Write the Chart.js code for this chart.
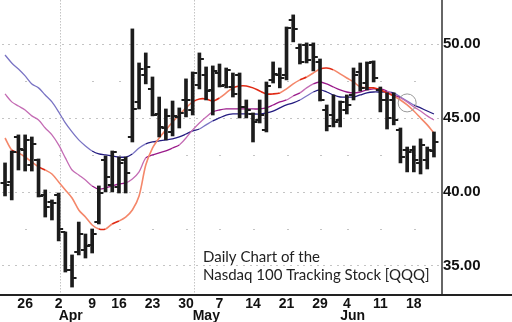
<!DOCTYPE html>
<html>
<head>
<meta charset="utf-8">
<script src="https://cdn.jsdelivr.net/npm/chart.js@4"></script>
<style>
html, body { margin: 0; padding: 0; background: #fff; }
</style>
</head>
<body>
<canvas id="canvas" width="512" height="322"></canvas>
<script>
// trading days from Mar 21 to Jun 21 (index 0 = Mar 21)
const opens = [40.59, 40.66, 43.71, 42.83, 41.81, 42.15, 39.78, 39.30, 39.78, 37.27, 34.69, 35.91, 36.04, 36.38, 37.94, 42.15, 40.45, 40.32, 42.15, 43.71,
    46.09, 47.92, 46.97, 45.27, 44.32, 44.05, 45.07, 46.20, 45.54, 47.24, 47.92, 46.90, 48.05, 47.24, 47.10, 47.92, 45.75, 45.27, 44.86, 44.19,
    47.58, 47.92, 47.92, 51.65, 49.75, 49.95, 49.95, 48.80, 45.54, 45.20, 44.86, 45.54, 46.56, 48.12, 47.37, 48.80, 46.90, 46.22, 46.22, 44.19,
    42.83, 42.83, 41.95, 42.15, 42.76]
const highs = [41.95, 42.76, 43.85, 43.85, 43.71, 42.22, 40.12, 39.44, 39.91, 37.27, 35.71, 37.94, 37.13, 37.47, 40.39, 42.42, 42.76, 42.35, 42.35, 51.04,
    48.73, 49.41, 47.78, 46.42, 45.61, 46.15, 45.68, 47.65, 48.12, 49.41, 48.46, 48.53, 48.66, 48.39, 48.05, 48.05, 46.22, 45.34, 46.22, 47.44,
    48.80, 48.39, 51.17, 51.99, 50.02, 50.09, 50.09, 49.00, 45.88, 46.56, 46.15, 46.56, 48.39, 48.73, 48.80, 48.87, 47.10, 46.70, 46.70, 44.32,
    43.03, 43.10, 43.58, 43.03, 44.05]
const lows = [39.71, 39.44, 41.47, 41.40, 41.40, 39.64, 38.28, 38.08, 36.66, 34.55, 33.53, 35.71, 35.50, 35.84, 37.81, 39.98, 39.98, 39.91, 39.91, 43.37,
    45.61, 47.31, 45.14, 43.71, 43.51, 43.78, 44.32, 45.07, 45.20, 46.97, 46.22, 45.20, 47.10, 47.04, 46.42, 45.00, 45.00, 43.37, 44.66, 44.05,
    47.37, 47.04, 47.58, 50.16, 48.66, 48.73, 48.19, 46.15, 44.12, 44.39, 44.39, 45.27, 46.22, 46.83, 46.90, 47.44, 45.41, 44.25, 44.53, 41.95,
    41.34, 41.34, 41.20, 41.54, 42.35]
const closes = [40.45, 42.69, 42.90, 43.51, 43.24, 39.71, 38.96, 39.20, 37.47, 34.69, 34.15, 37.13, 36.32, 37.13, 39.91, 41.00, 42.69, 41.95, 41.27, 45.61,
    48.32, 48.46, 45.17, 44.39, 45.14, 45.14, 45.34, 46.25, 48.05, 49.00, 46.83, 48.19, 47.17, 48.26, 46.63, 45.75, 45.54, 44.73, 45.20, 47.17,
    47.99, 47.71, 51.11, 51.04, 48.80, 48.93, 49.14, 46.22, 44.46, 44.73, 46.09, 45.88, 47.92, 47.04, 48.73, 47.71, 46.22, 45.00, 44.86, 42.35,
    42.69, 42.15, 43.17, 42.83, 43.37]

// moving averages
const maFast = [43.64, 42.83, 42.63, 42.35, 42.01, 41.68, 41.47, 41.20, 40.66, 40.12, 39.57, 38.76, 38.28, 37.74, 37.47, 37.47, 37.81, 38.01, 38.28, 38.76,
    39.71, 41.81, 42.96, 43.64, 44.19, 44.73, 45.20, 45.68, 46.09, 46.29, 46.29, 46.15, 46.36, 46.70, 47.04, 47.17, 47.17, 47.04, 46.83, 46.63,
    46.63, 46.70, 46.97, 47.31, 47.58, 47.78, 48.05, 48.32, 48.39, 48.26, 47.99, 47.71, 47.44, 47.10, 47.04, 47.04, 46.90, 46.70, 46.49, 46.22,
    45.88, 45.47, 45.00, 44.53, 43.98]
const maMid = [46.63, 46.09, 45.81, 45.54, 45.14, 44.86, 44.32, 43.85, 43.17, 42.29, 41.47, 41.13, 40.79, 40.39, 40.18, 40.25, 40.39, 40.52, 40.59, 40.86,
    41.34, 42.29, 42.49, 42.63, 42.76, 42.96, 43.17, 43.64, 44.19, 44.66, 45.07, 45.41, 45.54, 45.61, 45.61, 45.61, 45.61, 45.61, 45.61, 45.68,
    45.88, 46.09, 46.22, 46.49, 46.70, 47.04, 47.31, 47.44, 47.31, 47.10, 46.90, 46.76, 46.70, 46.76, 46.90, 46.97, 46.97, 46.83, 46.56, 46.36,
    46.09, 45.75, 45.47, 45.14, 44.86]
const maSlow = [49.27, 48.73, 48.32, 47.85, 47.31, 47.04, 46.56, 46.09, 45.41, 44.66, 44.05, 43.51, 43.10, 42.76, 42.56, 42.49, 42.42, 42.35, 42.35, 42.56,
    42.96, 43.24, 43.37, 43.44, 43.51, 43.58, 43.71, 43.91, 44.12, 44.25, 44.53, 44.80, 45.00, 45.20, 45.27, 45.27, 45.27, 45.27, 45.27, 45.34,
    45.47, 45.68, 45.88, 46.02, 46.22, 46.49, 46.76, 46.90, 46.76, 46.56, 46.42, 46.42, 46.42, 46.56, 46.70, 46.76, 46.76, 46.76, 46.70, 46.42,
    46.15, 45.88, 45.68, 45.47, 45.27]

const tickDays = [3, 8, 13, 17, 22, 27, 32, 37, 42, 47, 51, 56, 61]
const tickLabels = ['26', '2', '9', '16', '23', '30', '7', '14', '21', '29', '4', '11', '18']
const monthDays = [8, 28, 50]
const monthNames = ['Apr', 'May', 'Jun']
const gridMonths = [8.2, 28.2]
const priceTicks = [35, 40, 45, 50]
const minorTicks = [37.5, 42.5, 47.5]
const circleAt = { x: 60, y: 46.02 }

const days = opens.map((_, i) => i)
const axisFont = "'Liberation Sans Narrow', 'Liberation Sans', Arial, sans-serif"

function steep(light, dark) {
    return c => Math.abs(c.p1.parsed.y - c.p0.parsed.y) > 0.26 ? light : dark
}

const gridPlugin = {
    id: 'gridPlugin',
    beforeDatasetsDraw(chart) {
        const { ctx, chartArea: a, scales: { x, y } } = chart
        ctx.save()
        ctx.fillStyle = '#c4c4c4'
        priceTicks.forEach(p => {
            const py = Math.round(y.getPixelForValue(p))
            for (let i = -0.5; i <= 65; i++) {
                const px = Math.round(x.getPixelForValue(i))
                if (px >= a.left && px < a.right) ctx.fillRect(px, py, 2, 1)
            }
        })
        minorTicks.forEach(p => {
            const py = Math.round(y.getPixelForValue(p))
            tickDays.forEach(d => ctx.fillRect(Math.round(x.getPixelForValue(d)), py, 2, 1))
        })
        gridMonths.forEach(d => {
            const px = Math.round(x.getPixelForValue(d))
            for (let py = a.top; py < a.bottom; py += 3) ctx.fillRect(px, py, 1, 1.5)
        })
        ctx.restore()
    },
    afterDatasetsDraw(chart) {
        const { ctx, scales: { x, y } } = chart
        ctx.save()
        // open / close ticks
        ctx.strokeStyle = '#1c1c1c'
        ctx.lineWidth = 2
        days.forEach(i => {
            const px = x.getPixelForValue(i)
            const yo = Math.round(y.getPixelForValue(opens[i]))
            const yc = Math.round(y.getPixelForValue(closes[i]))
            ctx.beginPath()
            ctx.moveTo(px - 4.5, yo); ctx.lineTo(px, yo)
            ctx.moveTo(px, yc); ctx.lineTo(px + 4.5, yc)
            ctx.stroke()
        })
        // circle marker
        ctx.strokeStyle = '#999'
        ctx.lineWidth = 1
        ctx.beginPath()
        ctx.arc(x.getPixelForValue(circleAt.x), y.getPixelForValue(circleAt.y), 9, 0, Math.PI * 2)
        ctx.stroke()
        ctx.restore()
    },
    afterDraw(chart) {
        const { ctx, chartArea: a, scales: { x } } = chart
        ctx.save()
        // axes
        ctx.fillStyle = '#666'
        ctx.fillRect(a.right - 1, 0, 2, a.bottom)
        ctx.fillStyle = '#222'
        ctx.fillRect(0, a.bottom, chart.width, 2)
        // months
        ctx.fillStyle = '#111'
        ctx.font = 'bold 14px ' + axisFont
        ctx.textAlign = 'left'
        ctx.textBaseline = 'alphabetic'
        monthDays.forEach((d, k) => ctx.fillText(monthNames[k], x.getPixelForValue(d), a.bottom + 26))
        // caption
        ctx.fillStyle = '#222'
        ctx.font = '15px Lato, sans-serif'
        ctx.fillText('Daily Chart of the', 203, 262)
        ctx.fillText('Nasdaq 100 Tracking Stock [QQQ]', 203, 280)
        ctx.restore()
    }
}

const config = {
    data: {
        datasets: [
            {
                type: 'bar',
                data: days.map(i => ({ x: i, y: [lows[i], highs[i]] })),
                backgroundColor: '#1c1c1c',
                barThickness: 3,
                order: 0,
            },
            {
                type: 'line',
                data: days.map(i => ({ x: i, y: maFast[i] })),
                borderColor: '#e02a14',
                segment: { borderColor: steep('#f4876a', '#e02a14') },
                borderWidth: 1.6,
                pointRadius: 0,
                tension: 0.3,
                order: 1,
            },
            {
                type: 'line',
                data: days.map(i => ({ x: i, y: maMid[i] })),
                borderColor: '#9a1a8a',
                segment: { borderColor: steep('#c46cb4', '#9a1a8a') },
                borderWidth: 1.3,
                pointRadius: 0,
                tension: 0.3,
                order: 2,
            },
            {
                type: 'line',
                data: days.map(i => ({ x: i, y: maSlow[i] })),
                borderColor: '#241c80',
                segment: { borderColor: steep('#7a74c4', '#241c80') },
                borderWidth: 1.3,
                pointRadius: 0,
                tension: 0.3,
                order: 3,
            },
        ]
    },
    options: {
        responsive: false,
        animation: false,
        devicePixelRatio: 1,
        layout: { padding: 0 },
        plugins: { legend: { display: false }, tooltip: { enabled: false } },
        scales: {
            x: {
                type: 'linear',
                min: -0.75,
                max: 65.2,
                offset: false,
                grid: { display: false, drawTicks: false },
                border: { display: false },
                afterBuildTicks: s => { s.ticks = tickDays.map(v => ({ value: v })) },
                afterFit: s => { s.height = 28; s.paddingLeft = 0; s.paddingRight = 0 },
                ticks: {
                    autoSkip: false,
                    maxRotation: 0,
                    padding: 2,
                    color: '#111',
                    font: { family: axisFont, size: 14, weight: 'bold' },
                    callback: v => tickLabels[tickDays.indexOf(v)],
                },
            },
            y: {
                position: 'right',
                min: 33.06,
                max: 53.0,
                grid: { display: false, drawTicks: false },
                border: { display: false },
                afterBuildTicks: s => { s.ticks = priceTicks.map(v => ({ value: v })) },
                afterFit: s => { s.width = 70; s.paddingTop = 0; s.paddingBottom = 0 },
                ticks: {
                    padding: 1,
                    color: '#111',
                    font: { family: axisFont, size: 15, weight: 'bold' },
                    callback: v => v.toFixed(2),
                },
            },
        },
    },
    plugins: [gridPlugin],
}

const canvas = document.getElementById('canvas')
const chart = new Chart(canvas, config)
</script>
</body>
</html>
